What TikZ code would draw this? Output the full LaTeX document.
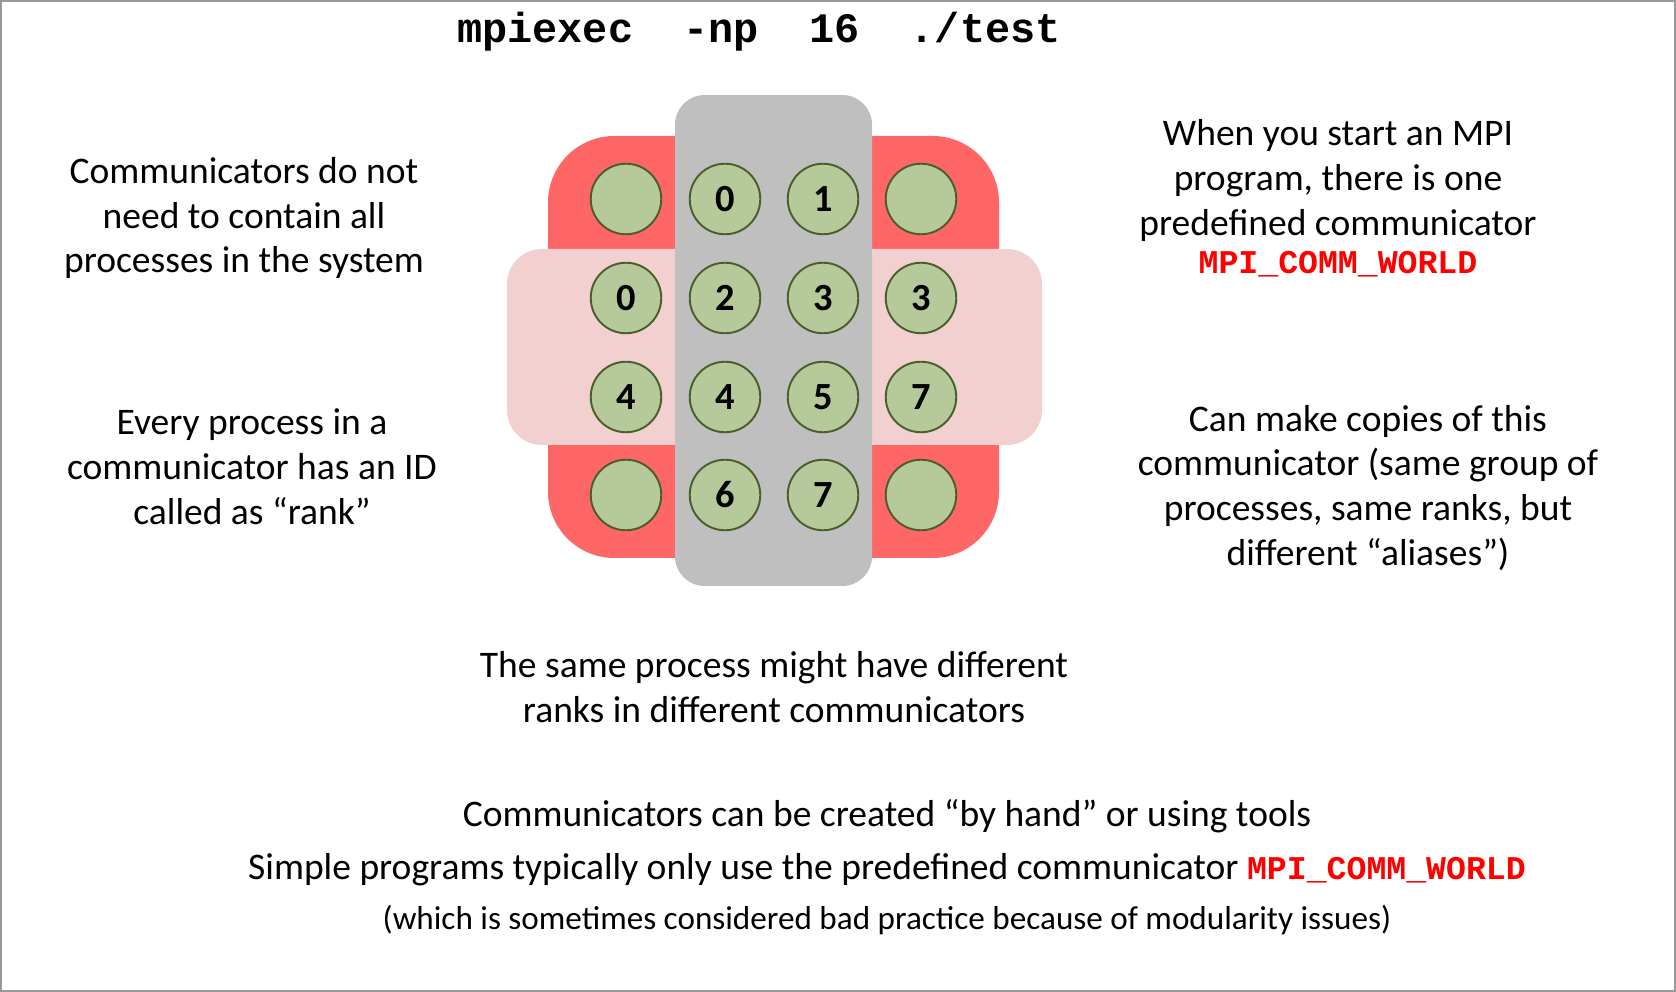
\documentclass[tikz,border=0pt]{standalone}
\usepackage{fontspec}
\setmainfont{Carlito}
\newfontfamily\codefont{Liberation Mono}
\tikzset{>=latex}

\definecolor{commred}{HTML}{FF6666}
\definecolor{commpink}{HTML}{F2D0D0}
\definecolor{commgray}{HTML}{BFBFBF}
\definecolor{procgreen}{HTML}{B5C99A}
\definecolor{procedge}{HTML}{4A5E2C}
\definecolor{worldred}{HTML}{FF0000}

\newcommand{\commworld}{{\codefont\bfseries\fontsize{19}{25.7}\selectfont\color{worldred}MPI\_COMM\_WORLD}}

\tikzset{
  proc/.style={circle,draw=procedge,fill=procgreen,line width=1.1pt,
    minimum size=40.4pt,inner sep=0pt,font=\fontsize{22}{22}\selectfont\bfseries},
  note/.style={align=center,font=\fontsize{21.5}{25.7}\selectfont},
}

\begin{document}
\begin{tikzpicture}[x=0.5728pt,y=-0.5728pt]
\useasboundingbox (0,0) rectangle (1676,992);
\draw[black!40,line width=1.2pt] (1,1) rectangle (1675,991);

\node[font={\codefont\bfseries\fontsize{24}{24}\selectfont}] (cmd) at (759,32) {mpiexec~~-np~~16~~./test};

% communicators
\fill[commred,rounded corners=38pt] (548,136) rectangle (999,558);
\fill[commpink,rounded corners=20pt] (507,249) rectangle (1042,445);
\fill[commgray,rounded corners=17pt] (675,95) rectangle (872,586);

\begin{scope}[every node/.style={proc}]
\node (P11) at (626,199) {};
\node (P12) at (725,199) {0};
\node (P13) at (823,199) {1};
\node (P14) at (921,199) {};
\node (P21) at (626,298) {0};
\node (P22) at (725,298) {2};
\node (P23) at (823,298) {3};
\node (P24) at (921,298) {3};
\node (P31) at (626,397) {4};
\node (P32) at (725,397) {4};
\node (P33) at (823,397) {5};
\node (P34) at (921,397) {7};
\node (P41) at (626,495) {};
\node (P42) at (725,495) {6};
\node (P43) at (823,495) {7};
\node (P44) at (921,495) {};
\end{scope}

\begin{scope}[every node/.style={note}]
\node (subset) at (244,218) {Communicators do not\\need to contain all\\processes in the system};
\node (rank) at (252,467) {Every process in a\\communicator has an ID\\called as “rank”};
\node (world) at (1338,198) {When you start an MPI\\program, there is one\\predefined communicator\\[-4pt]\commworld};
\node (copies) at (1368,488) {Can make copies of this\\communicator (same group of\\processes, same ranks, but\\different “aliases”)};
\node (ranks) at (774,687) {The same process might have different\\ranks in different communicators};
\node (byhand) at (887,816) {Communicators can be created “by hand” or using tools};
\node (simple) at (887,870) {Simple programs typically only use the predefined communicator \commworld};
\node[font=\fontsize{19}{20}\selectfont] (modular) at (887,920) {(which is sometimes considered bad practice because of modularity issues)};
\end{scope}
\end{tikzpicture}
\end{document}
